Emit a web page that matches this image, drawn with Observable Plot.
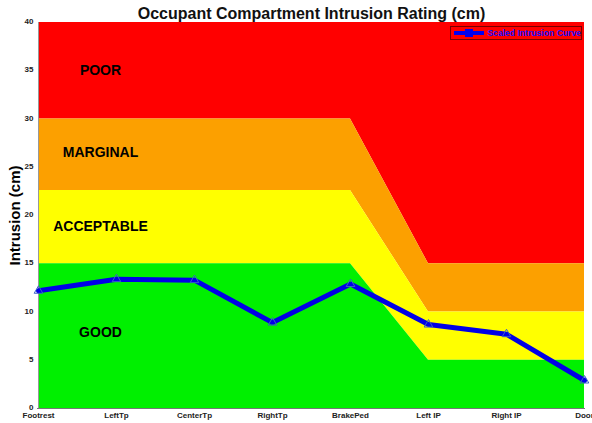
<!DOCTYPE html>
<html>
<head>
<meta charset="utf-8">
<script src="https://cdn.jsdelivr.net/npm/d3@7"></script>
<script src="https://cdn.jsdelivr.net/npm/@observablehq/plot@0.6"></script>
<style>
  body { margin: 0; background: #fff; }
  #wrap { position: relative; width: 592px; height: 423px; font-family: "Liberation Sans", Arial, sans-serif; }
  #legend { position: absolute; left: 450px; top: 26px; width: 132px; height: 14px; border: 1px solid #7a0000; box-sizing: border-box; display: flex; align-items: center; }
  #legend span { color: #1010ff; font-weight: bold; font-size: 8.6px; white-space: nowrap; margin-left: 3px; }
</style>
</head>
<body>
<div id="wrap"><div id="legend"><svg width="34" height="12"><line x1="3" y1="6" x2="33" y2="6" stroke="#0000f0" stroke-width="4"/><rect x="14" y="2" width="8" height="8" fill="#0000f0"/></svg><span>Scaled Intrusion Curve</span></div></div>
<script>
const categories = ["Footrest", "LeftTp", "CenterTp", "RightTp", "BrakePed", "Left IP", "Right IP", "Door"];
const intrusion = [12.2, 13.4, 13.3, 8.9, 12.9, 8.7, 7.7, 2.9];
const goodUpper = [15, 15, 15, 15, 15, 5, 5, 5];
const acceptableUpper = [22.6, 22.6, 22.6, 22.6, 22.6, 10, 10, 10];
const marginalUpper = [30, 30, 30, 30, 30, 15, 15, 15];
const poorUpper = [40, 40, 40, 40, 40, 40, 40, 40];
const yTicks = [0, 5, 10, 15, 20, 25, 30, 35, 40];
const bandLabels = ["POOR", "MARGINAL", "ACCEPTABLE", "GOOD"];
const bandLabelY = [35, 26.5, 18.9, 7.9];
const bandColors = ["#ff0000", "#fca000", "#ffff00", "#00f000"];
const title = "Occupant Compartment Intrusion Rating (cm)";
const yLabel = "Intrusion (cm)";

const rows = categories.map((c, i) => ({
  cat: c, v: intrusion[i], g: goodUpper[i], a: acceptableUpper[i], m: marginalUpper[i], p: poorUpper[i]
}));
const labelRows = bandLabels.map((t, i) => ({t, y: bandLabelY[i]}));

const chart = Plot.plot({
  width: 592,
  height: 423,
  marginLeft: 37,
  marginRight: 7,
  marginTop: 22,
  marginBottom: 15,
  style: {fontFamily: "'Liberation Sans', Arial, sans-serif", background: "transparent", overflow: "hidden"},
  x: {type: "point", domain: categories, padding: 0},
  y: {domain: [0, 40]},
  marks: [
    Plot.areaY(rows, {x: "cat", y1: "m", y2: "p", fill: bandColors[0]}),
    Plot.areaY(rows, {x: "cat", y1: "a", y2: "m", fill: bandColors[1]}),
    Plot.areaY(rows, {x: "cat", y1: "g", y2: "a", fill: bandColors[2]}),
    Plot.areaY(rows, {x: "cat", y1: 0, y2: "g", fill: bandColors[3]}),
    Plot.ruleY([0], {stroke: "#777", strokeWidth: 1}),
    Plot.ruleX([categories[0]], {stroke: "#999", strokeWidth: 1}),
    Plot.axisY({ticks: yTicks, tickSize: 0, tickPadding: 4, label: null, fontSize: 8, fontWeight: "bold", fill: "#222", dy: -1}),
    Plot.axisX({tickSize: 0, tickPadding: 4, label: null, fontSize: 8, fontWeight: "bold", fill: "#222"}),
    Plot.text(labelRows, {x: () => categories[0], y: "y", text: "t", dx: 62, fontSize: 14, fontWeight: "bold", fill: "#000"}),
    Plot.line(rows, {x: "cat", y: "v", stroke: "#0000e6", strokeWidth: 5, strokeLinejoin: "miter"}),
    Plot.dot(rows, {x: "cat", y: "v", symbol: "triangle", r: 3.2, stroke: "#3a5fc8", fill: "none", strokeWidth: 1}),
    Plot.text([title], {frameAnchor: "top", dy: -4, lineAnchor: "bottom", fontSize: 16, fontWeight: "bold", fill: "#111"}),
    Plot.text([yLabel], {frameAnchor: "left", textAnchor: "middle", dx: -22, rotate: -90, fontSize: 15, fontWeight: "bold", fill: "#000"})
  ]
});
document.getElementById("wrap").prepend(chart);
chart.style.position = "absolute";
chart.style.left = "0";
chart.style.top = "0";
</script>
</body>
</html>
